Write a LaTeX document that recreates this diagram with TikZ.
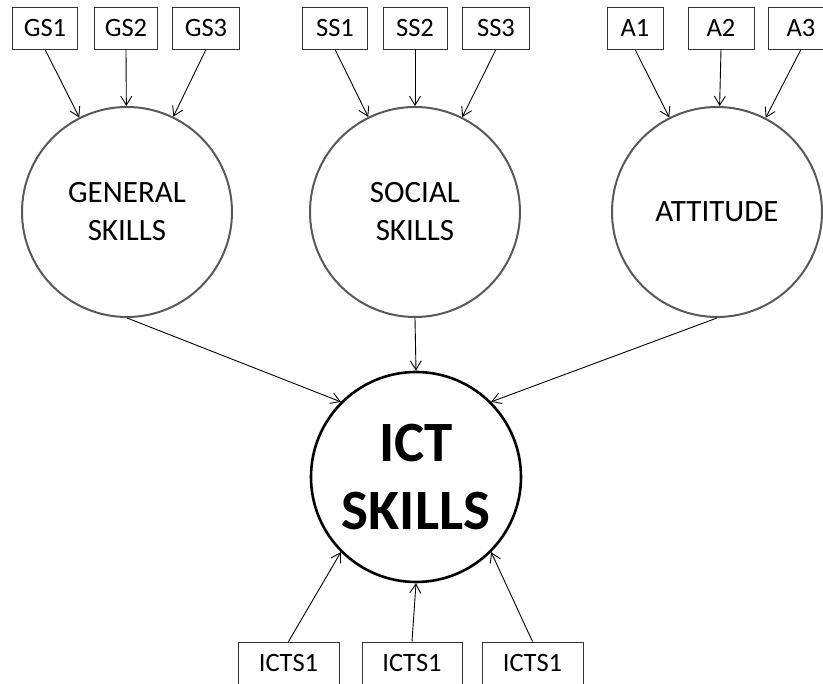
\documentclass[tikz,border=0pt]{standalone}
\usepackage{fontspec}
\setmainfont{Carlito}
\usetikzlibrary{arrows.meta}
\tikzset{
  indicator/.style={
    draw=black!80,line width=0.9pt,minimum width=65pt,minimum height=42pt,
    inner sep=0pt,font=\fontsize{26.5}{30}\selectfont,
  },
  latent/.style={
    circle,draw=black!65,line width=2pt,minimum size=210pt,inner sep=0pt,
    align=center,font=\fontsize{31}{38}\selectfont,
  },
  outcome/.style={
    circle,draw=black,line width=2.6pt,minimum size=210pt,inner sep=0pt,
    align=center,font=\fontsize{57}{68}\selectfont\bfseries,
  },
}

\begin{document}
\begin{tikzpicture}[x=1pt,y=1pt,>={Straight Barb[length=9pt,width=11pt]},line width=0.9pt]
      \useasboundingbox (0,0) rectangle (823,684);

      \node[latent] (general) at (127,472) {GENERAL\\SKILLS};
      \node[latent] (social) at (415,472) {SOCIAL\\SKILLS};
      \node[latent] (attitude) at (717,472) {ATTITUDE};
      \node[outcome] (ict) at (416,207) {ICT\\SKILLS};

      \node[indicator] (gs1) at (45,656) {GS1};
      \node[indicator,minimum width=63pt] (gs2) at (126,656) {GS2};
      \node[indicator,minimum width=67pt] (gs3) at (206,656) {GS3};
      \node[indicator] (ss1) at (335,656) {SS1};
      \node[indicator,minimum width=64pt] (ss2) at (415,656) {SS2};
      \node[indicator,minimum width=67pt] (ss3) at (496,656) {SS3};
      \node[indicator,minimum width=56pt] (a1) at (635,656) {A1};
      \node[indicator,minimum width=66pt] (a2) at (721,656) {A2};
      \node[indicator,minimum width=66pt] (a3) at (801,656) {A3};

      \node[indicator,minimum width=101pt] (icts1) at (288.5,21) {ICTS1};
      \node[indicator,minimum width=100pt] (icts2) at (412,21) {ICTS1};
      \node[indicator,minimum width=101pt] (icts3) at (532.5,21) {ICTS1};

      \path[->] (gs1.south) edge (general);
      \path[->] (gs2.south) edge (general);
      \path[->] (gs3.south) edge (general);
      \path[->] (ss1.south) edge (social);
      \path[->] (ss2.south) edge (social);
      \path[->] (ss3.south) edge (social);
      \path[->] (a1.south) edge (attitude);
      \path[->] (a2.south) edge (attitude);
      \path[->] (a3.south) edge (attitude);

      \draw[->] (general.south) -- (ict.135);
      \draw[->] (social.south) -- (ict.north);
      \draw[->] (attitude.south) -- (ict.45);

      \draw[->] (icts1.north) -- (ict.-135);
      \draw[->] (icts2.north) -- (ict.south);
      \draw[->] (icts3.north) -- (ict.-45);
\end{tikzpicture}
\end{document}
